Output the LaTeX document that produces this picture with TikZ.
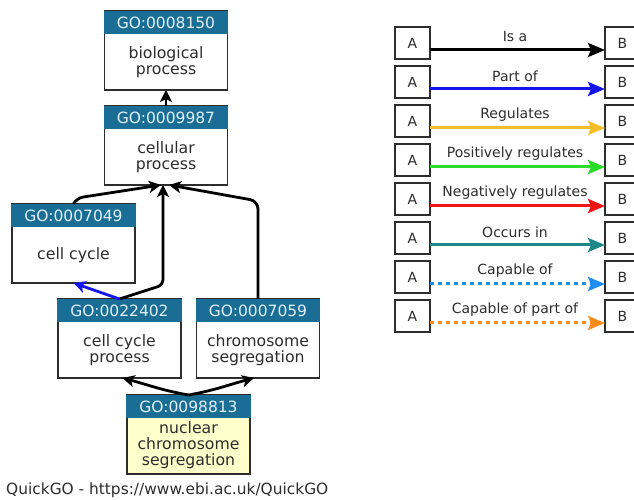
\documentclass[tikz,border=0pt]{standalone}
\usepackage{fontspec}
\setmainfont{DejaVu Sans}
\usetikzlibrary{arrows.meta,calc}
\definecolor{gohead}{RGB}{26,110,150}
\definecolor{goheadtext}{RGB}{225,240,250}
\definecolor{gotext}{RGB}{45,45,45}
\definecolor{gofill}{RGB}{255,255,204}
\definecolor{partc}{RGB}{20,20,235}
\definecolor{regc}{RGB}{245,190,40}
\definecolor{posc}{RGB}{40,220,40}
\definecolor{negc}{RGB}{240,20,20}
\definecolor{occc}{RGB}{30,135,135}
\definecolor{capc}{RGB}{30,140,240}
\definecolor{cappc}{RGB}{250,140,30}
\begin{document}
\begin{tikzpicture}[x=1pt,y=1pt,
  gobox/.style={draw=gotext, line width=1.5pt, fill=white, minimum width=123pt,
    minimum height=79pt, inner sep=0pt, outer sep=0pt, anchor=north},
  gohd/.style={fill=gohead, text=goheadtext, minimum width=124.5pt, minimum height=23pt,
    inner sep=0pt, outer sep=0pt, anchor=north, font=\fontsize{15.5}{16}\selectfont},
  gotxt/.style={text=gotext, align=center, inner sep=0pt, font=\fontsize{15.7}{16}\selectfont},
  graphedge/.style={line width=2.8pt, -{Stealth[length=12pt,width=12pt,inset=3pt]}},
  legbox/.style={draw=gotext, line width=1.3pt, fill=white, minimum width=35pt,
    minimum height=32pt, inner sep=0pt, outer sep=0pt, text=gotext,
    font=\fontsize{14}{14}\selectfont},
  leglabel/.style={text=gotext, inner sep=0pt, font=\fontsize{14}{14}\selectfont},
  legarrow/.style={line width=3pt, -{Stealth[length=17pt,width=14pt,inset=3pt]}},
  dotline/.style={dash pattern=on 4pt off 4pt}
]
\useasboundingbox (0,0) rectangle (634,500);

% GO term boxes
\node[gobox] (t8150) at (166,489) {};
\node[gohd] (t8150h) at (t8150.north) {GO:0008150};
\node[gotxt] (t8150t) at ($(t8150.north)+(0,-51)$) {biological\\process};

\node[gobox] (t9987) at (166,394) {};
\node[gohd] (t9987h) at (t9987.north) {GO:0009987};
\node[gotxt] (t9987t) at ($(t9987.north)+(0,-51)$) {cellular\\process};

\node[gobox] (t7049) at (73.5,296) {};
\node[gohd] (t7049h) at (t7049.north) {GO:0007049};
\node[gotxt] (t7049t) at ($(t7049.north)+(0,-51)$) {cell cycle};

\node[gobox] (t22402) at (119.5,201) {};
\node[gohd] (t22402h) at (t22402.north) {GO:0022402};
\node[gotxt] (t22402t) at ($(t22402.north)+(0,-51)$) {cell cycle\\process};

\node[gobox] (t7059) at (258,201) {};
\node[gohd] (t7059h) at (t7059.north) {GO:0007059};
\node[gotxt] (t7059t) at ($(t7059.north)+(0,-51)$) {chromosome\\segregation};

\node[gobox, fill=gofill] (t98813) at (188.5,105) {};
\node[gohd] (t98813h) at (t98813.north) {GO:0098813};
\node[gotxt] (t98813t) at ($(t98813.north)+(0,-50)$) {nuclear\\chromosome\\segregation};

% graph edges
\coordinate (c1) at (163,215);
\coordinate (c2) at (258,299);
\coordinate (c3) at (77,302);
\draw[graphedge] (t9987.north) -- (t8150.south);
\draw[graphedge, rounded corners=6pt] (t7049.north) -- (c3) -- ($(t9987.south)+(-5,0)$);
\draw[graphedge, rounded corners=5pt] (t22402.north) -- (c1) -- ($(t9987.south)+(-3,0)$);
\draw[graphedge, rounded corners=8pt] (t7059.north) -- (c2) -- ($(t9987.south)+(3,0)$);
\draw[graphedge, draw=partc, color=partc] (t22402.north) -- (t7049.south);
\draw[graphedge] (t98813.north) to[out=170,in=-15] ($(t22402.south)+(3,0)$);
\draw[graphedge] (t98813.north) to[out=10,in=195] ($(t7059.south)+(-4,0)$);

% legend
\foreach \i/\lab/\col/\dst in {0/Is a/black/solid,1/Part of/partc/solid,2/Regulates/regc/solid,
    3/Positively regulates/posc/solid,4/Negatively regulates/negc/solid,5/Occurs in/occc/solid,
    6/Capable of/capc/dotline,7/Capable of part of/cappc/dotline}{
  \node[legbox] (a\i) at (412.5,{457-39*\i}) {A};
  \node[legbox] (b\i) at (622.5,{457-39*\i}) {B};
  \node[leglabel] (l\i) at (515,{463-39*\i}) {\lab};
  \draw[legarrow, color=\col, \dst] ($(a\i.east)+(0,-7)$) -- ($(b\i.west)+(0,-7)$);
}

% footer
\node[anchor=west, text=gotext, inner sep=0pt, font=\fontsize{15.4}{15}\selectfont] (foot) at (6,10)
  {QuickGO - https://www.ebi.ac.uk/QuickGO};
\end{tikzpicture}
\end{document}
